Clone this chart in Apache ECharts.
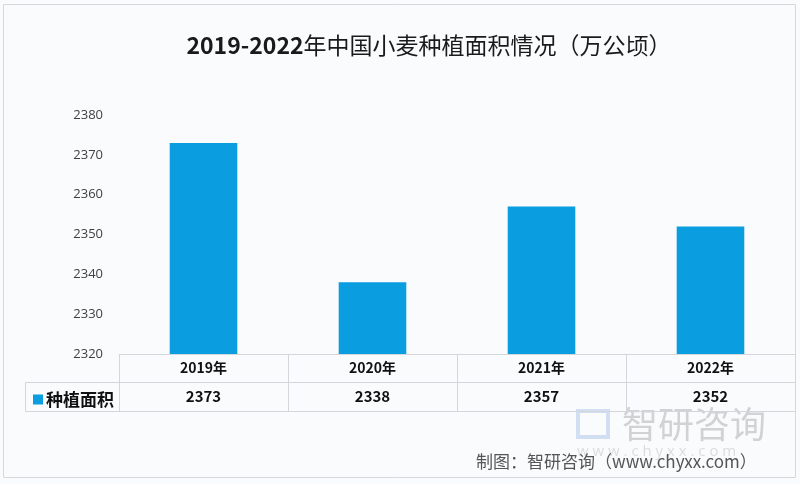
<!DOCTYPE html>
<html>
<head>
<meta charset="utf-8">
<script src="https://cdn.jsdelivr.net/npm/echarts@6/dist/echarts.min.js"></script>
<style>
html,body{margin:0;padding:0;background:#fafbfd;}
#c{width:800px;height:484px;}
</style>
</head>
<body>
<div id="c"></div>
<script>
const categories = ['2019年', '2020年', '2021年', '2022年'];
const areaValues = [2373, 2338, 2357, 2352];
const seriesName = '种植面积';
const titleYears = '2019-2022';
const titleRest = '年中国小麦种植面积情况（万公顷）';
const sourceText = '制图：智研咨询（www.chyxx.com）';

const CJK = '"Noto Sans CJK SC", "Open Sans", sans-serif';
const GRID = '#d4d6da';
const chart = echarts.init(document.getElementById('c'));
chart.setOption({
  backgroundColor: '#fafbfd',
  animation: false,
  title: {
    text: '{a|' + titleYears + '}{b|' + titleRest + '}',
    left: 424, top: 29, textAlign: 'center',
    textStyle: {
      rich: {
        a: {fontFamily: CJK, fontWeight: 'bold', fontSize: 23, color: '#1a1a1a'},
        b: {fontFamily: CJK, fontWeight: 'normal', fontSize: 23, color: '#1a1a1a', letterSpacing: 0.3}
      }
    }
  },
  legend: {
    left: 28, top: 386, icon: 'rect', itemWidth: 10, itemHeight: 10, itemGap: 3,
    textStyle: {fontFamily: CJK, fontWeight: 'bold', fontSize: 17, color: '#111', padding: [0, 0, 0, -2]},
    data: [seriesName]
  },
  grid: {left: 119, right: 5, top: 115, bottom: 130},
  yAxis: {
    type: 'value', min: 2320, max: 2380, interval: 10,
    axisLine: {show: false}, axisTick: {show: false}, splitLine: {show: false},
    axisLabel: {margin: 16, formatter: v => String(v), fontFamily: '"Open Sans", sans-serif', fontSize: 13, color: '#404040'}
  },
  xAxis: [
    {
      type: 'category', data: categories, position: 'bottom',
      axisLine: {show: true, lineStyle: {color: GRID}},
      axisTick: {show: true, length: 57, lineStyle: {color: GRID}},
      axisLabel: {margin: 7, fontFamily: CJK, fontWeight: 'bold', fontSize: 14, color: '#111'}
    },
    {
      type: 'category', data: areaValues.map(String), position: 'bottom', offset: 28,
      axisLine: {show: true, lineStyle: {color: GRID}},
      axisTick: {show: false},
      axisLabel: {margin: 7, fontFamily: CJK, fontWeight: 'bold', fontSize: 15, color: '#111'}
    },
    {
      type: 'category', data: categories, position: 'bottom', offset: 57,
      axisLine: {show: true, lineStyle: {color: GRID}},
      axisTick: {show: false}, axisLabel: {show: false}
    }
  ],
  series: [{
    name: seriesName, type: 'bar', data: areaValues, xAxisIndex: 0,
    barWidth: '40%', itemStyle: {color: '#0a9de0'}
  }],
  graphic: [
    {type: 'rect', silent: true, z: -1, shape: {x: 3.5, y: 4.5, width: 792, height: 473},
     style: {fill: 'none', stroke: '#d6d8dc', lineWidth: 1}},
    {type: 'polyline', silent: true, shape: {points: [[119, 382.5], [25.5, 382.5], [25.5, 411.5], [119, 411.5]]},
     style: {fill: 'none', stroke: GRID, lineWidth: 1}},
    {type: 'text', silent: true, left: 622, top: 406,
     style: {text: '智研咨询', fontFamily: CJK, fontSize: 36, fill: 'rgba(150,150,150,0.4)', letterSpacing: 4}},
    {type: 'rect', silent: true, shape: {x: 578, y: 411, width: 30, height: 26},
     style: {fill: 'none', stroke: 'rgba(120,160,220,0.3)', lineWidth: 4}},
    {type: 'text', silent: true, left: 577, top: 444,
     style: {text: 'w w w . c h y x x . c o m', fontFamily: '"Open Sans", sans-serif', fontSize: 15, fill: 'rgba(150,150,150,0.3)'}},
    {type: 'text', silent: true, left: 476, top: 453,
     style: {text: sourceText, fontFamily: CJK, fontSize: 17, letterSpacing: 0.7, fill: '#555'}}
  ]
});
</script>
</body>
</html>
